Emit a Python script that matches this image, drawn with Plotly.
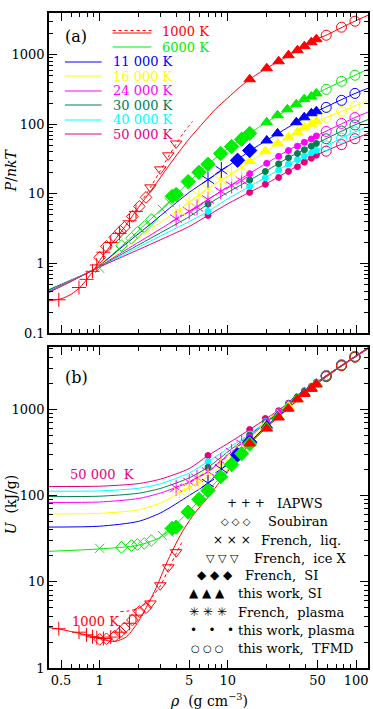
import plotly.graph_objects as go

# ---------------- colours / labels ----------------
T_LABELS = ["1000 K", "6000 K", "11 000 K", "16 000 K", "24 000 K", "30 000 K", "40 000 K", "50 000 K"]
T_COLORS = ["#ff0000", "#00ee00", "#0000ff", "#ffff00", "#ff00ff", "#008050", "#00ffff", "#e6007e"]

# ---------------- model curves, panel (a) P/nkT ----------------
RHO_LINE_A_1000 = [0.40, 0.5, 0.6, 0.7, 0.8, 0.9, 1.0, 1.2, 1.5, 2.0, 2.5, 3.0, 3.5, 4.2, 5.0, 6.5, 8.0, 10, 12,
                   14.8, 20, 25, 30, 40, 49, 60, 78, 98, 124]
P_LINE_1000 = [0.29, 0.31, 0.36, 0.45, 0.6, 0.8, 1.1, 1.75, 3.0, 6.3, 11, 17.5, 26, 41, 62, 108, 165, 240, 325,
               444, 639, 806, 984, 1326, 1671, 1950, 2488, 3034, 3700]
RHO_DOT_A_1000 = [2.2, 2.49, 2.97, 3.43, 3.95, 4.5, 5.3]
P_DOT_1000 = [8.6, 12.4, 21.5, 34, 52, 75, 110]

RHO_GRID_A = [0.40, 0.6, 0.91, 1.5, 2.5, 3.5, 5, 7, 10, 15, 20, 30, 49, 98, 124]
P_LINE_6000 = [0.42, 0.58, 0.82, 1.8, 4.3, 7.8, 15, 26.6, 45, 75, 107, 166, 278, 507, 620]
P_LINE_11000 = [0.41, 0.575, 0.82, 1.73, 3.7, 6.2, 10.5, 16, 25, 42, 58.6, 92, 152, 277, 330]
P_LINE_16000 = [0.40, 0.57, 0.82, 1.58, 3.08, 4.78, 7.6, 12, 18, 29.5, 41, 66, 109, 183, 220]
P_LINE_24000 = [0.395, 0.565, 0.82, 1.45, 2.57, 3.76, 5.6, 8.3, 12.5, 20, 27.5, 43, 68, 125, 150]
P_LINE_30000 = [0.39, 0.56, 0.82, 1.37, 2.3, 3.24, 4.7, 7.1, 10.5, 16, 21.5, 33.5, 53, 98, 117]
P_LINE_40000 = [0.385, 0.555, 0.82, 1.3, 2.1, 2.87, 4.0, 5.6, 8.5, 13, 17.5, 27, 42, 78, 93]
P_LINE_50000 = [0.38, 0.55, 0.82, 1.24, 1.89, 2.5, 3.4, 4.9, 7.2, 10.7, 14, 21.5, 36, 62, 74]

# ---------------- model curves, panel (b) U ----------------
RHO_LINE_B_1000 = [0.4, 0.48, 0.68, 0.87, 1.0, 1.15, 1.26, 1.4, 1.62, 1.8, 2.04, 2.4, 2.77, 3.3, 3.95, 4.6, 5.5,
                   7, 10, 14.8, 19.6, 24.4, 29.2, 35, 40, 45, 49, 58.5, 78, 98, 124]
U_LINE_1000 = [2.95, 2.83, 2.54, 2.34, 2.22, 2.08, 2.03, 2.08, 2.3, 2.75, 3.6, 5.6, 8.6, 16, 28, 42, 62,
               95, 190, 395, 595, 795, 1000, 1280, 1510, 1720, 1930, 2380, 3200, 4000, 5000]
RHO_DOT_B_1000 = [1.45, 1.7, 2.0, 2.3, 2.6, 3.0, 3.5, 4.0, 4.5]
U_DOT_1000 = [4.5, 4.6, 4.9, 5.6, 6.8, 9.2, 14.7, 22, 31]

RHO_GRID_B = [0.4, 1.0, 2.0, 3.0, 5.0, 7.0, 10, 14.8, 20, 30, 49, 98, 124]
U_LINE_6000 = [22.5, 24, 26.5, 33, 66, 114, 200, 400, 620, 1040, 1960, 4030, 5100]
U_LINE_11000 = [43, 44, 50, 63, 100, 139, 240, 415, 640, 1060, 1970, 4040, 5110]
U_LINE_16000 = [61, 62, 68, 82, 124, 166, 255, 430, 660, 1080, 1990, 4050, 5120]
U_LINE_24000 = [83, 84, 92, 107, 143, 189, 295, 475, 700, 1120, 2010, 4060, 5130]
U_LINE_30000 = [97, 98, 106, 121, 160, 212, 320, 500, 720, 1150, 2030, 4070, 5140]
U_LINE_40000 = [112, 113, 121, 137, 182, 247, 350, 515, 735, 1165, 2040, 4080, 5150]
U_LINE_50000 = [127, 128, 137, 155, 205, 290, 400, 580, 780, 1190, 2042, 4090, 5160]

# ---------------- simulation / reference points ----------------
TFMD_RHO = [58.5, 77, 98]

# 1000 K
IAPWS_RHO_1000 = [0.48, 0.69, 0.79, 0.88, 0.95, 1.07, 1.22, 1.43, 1.71, 1.92]
IAPWS_P_1000 = [0.30, 0.45, 0.59, 0.77, 0.95, 1.45, 2.0, 2.7, 4.1, 5.6]
IAPWS_U_1000 = [2.85, 2.6, 2.42, 2.3, 2.25, 2.2, 2.28, 2.6, 3.3, 4.1]
SOUB_RHO_1000 = [1.0, 1.13, 1.31, 1.45, 1.56, 1.8, 2.04, 2.3]
SOUB_P_1000 = [1.22, 1.76, 2.37, 2.9, 3.3, 4.74, 6.6, 8.9]
SOUB_U_1000 = [2.15, 2.18, 2.34, 2.6, 2.9, 3.6, 4.5, 5.0]
ICEX_RHO_1000 = [2.49, 2.97, 3.43, 3.95]
ICEX_P_1000 = [12.4, 22.5, 35.8, 53]
ICEX_U_1000 = [5.6, 9.1, 14.7, 22]
SI_RHO_1000 = [14.8, 20.1, 24.9, 29.7, 34.9, 39.5, 44.8, 49]
SI_P_1000 = [444, 639, 806, 984, 1160, 1326, 1513, 1671]
SI_U_1000 = [400, 595, 800, 1014, 1300, 1500, 1720, 1930]
TFMD_P_1000 = [1906, 2488, 3034]
TFMD_U_1000 = [2380, 3200, 4000]

# 6000 K
LIQ_RHO_6000 = [1.0, 3.08, 3.49]
LIQ_P_6000 = [0.85, 6.0, 7.5]
LIQ_U_6000 = [24.4, 34.5, 37.5]
SOUB_RHO_6000 = [1.48, 1.77, 1.97, 2.23, 2.53]
SOUB_P_6000 = [1.8, 2.3, 2.8, 3.4, 4.3]
SOUB_U_6000 = [25, 26.3, 27, 27.8, 30]
FSI_RHO_6000 = [3.68, 3.95, 4.9, 5.95, 7.0, 8.8, 10.7, 12.8, 14.8]
FSI_P_6000 = [9.2, 9.8, 15, 20.4, 26.6, 38, 48, 61, 74]
FSI_U_6000 = [41.5, 43, 64, 90, 114, 165, 228, 305, 395]
SI_RHO_6000 = [20.1, 24.4, 29.1, 34.2, 39.4, 44.8, 49]
SI_P_6000 = [107, 135, 164, 194, 230, 250, 278]
SI_U_6000 = [620, 810, 1020, 1300, 1510, 1730, 1950]
TFMD_P_6000 = [318, 415, 507]
TFMD_U_6000 = [2400, 3180, 4030]

# 11 000 K
PLA_RHO_11000 = [7.0, 8.9]
PLA_P_11000 = [16, 22]
PLA_U_11000 = [139, 203]
FSI_RHO_11000 = [11.9, 14.8]
FSI_P_11000 = [30.4, 42]
FSI_U_11000 = [295, 415]
SI_RHO_11000 = [20.1, 24.4, 34.2, 39.4, 44.8, 49]
SI_P_11000 = [58.6, 74, 107, 126, 144, 154]
SI_U_11000 = [645, 830, 1320, 1540, 1760, 1970]
TFMD_P_11000 = [175, 221, 278]
TFMD_U_11000 = [2420, 3200, 4040]

# 16 000 K
PLA_RHO_16000 = [4.2, 5.0, 5.95, 7.0, 8.8, 10.7, 12.8]
PLA_P_16000 = [5.6, 7.6, 9.6, 12, 15.8, 19.5, 24]
PLA_U_16000 = [110, 124, 143, 166, 218, 280, 350]
SI_RHO_16000 = [14.8, 19.6, 24.4, 29.7, 34.9, 39.5, 44.8, 49]
SI_P_16000 = [29.7, 41, 53, 65, 76.6, 90, 100, 110]
SI_U_16000 = [430, 650, 850, 1070, 1330, 1540, 1770, 1990]
TFMD_P_16000 = [126, 154, 181]
TFMD_U_16000 = [2430, 3220, 4050]

# 24 000 K
PLA_RHO_24000 = [3.95, 5.0, 5.75, 7.0, 8.8, 10.7, 12.8]
PLA_P_24000 = [4.4, 5.6, 6.4, 8.3, 10.9, 13.2, 15.5]
PLA_U_24000 = [123, 143, 160, 189, 250, 320, 400]
PLM_RHO_24000 = [14.8, 20.1, 24.9, 29.7, 34.9, 39.5, 44.8, 49]
PLM_P_24000 = [19.5, 27.5, 34.6, 42, 48.5, 55, 61.5, 68]
PLM_U_24000 = [475, 705, 900, 1100, 1340, 1560, 1790, 2010]
TFMD_P_24000 = [79, 103, 125]
TFMD_U_24000 = [2440, 3230, 4060]

# 30 000 / 40 000 / 50 000 K ("this work, plasma")
PLM_RHO_HIGH = [7.0, 14.8, 19.6, 24.9, 29.7, 34.9, 39.5, 44.8, 49]
PLM_P_30000 = [7.1, 15.8, 21, 27, 33, 38, 43, 48.5, 53]
PLM_U_30000 = [212, 500, 705, 910, 1130, 1360, 1580, 1810, 2030]
PLM_P_40000 = [5.6, 12.8, 17, 22, 26.8, 31, 35, 39, 42]
PLM_U_40000 = [247, 515, 720, 925, 1145, 1375, 1600, 1820, 2040]
PLM_P_50000 = [4.9, 10.5, 13.7, 17.2, 21, 24.5, 28.5, 32.5, 36]
PLM_U_50000 = [290, 580, 780, 960, 1175, 1395, 1636, 1835, 2042]
TFMD_P_30000 = [62, 80, 98]
TFMD_U_30000 = [2445, 3240, 4070]
TFMD_P_40000 = [49, 63, 78]
TFMD_U_40000 = [2450, 3250, 4080]
TFMD_P_50000 = [41, 51, 62]
TFMD_U_50000 = [2460, 3270, 4090]

# marker legend of panel (b)
MARKER_GLYPHS = ["+ + +", "◇ ◇ ◇", "× × ×", "▽ ▽ ▽", "◆ ◆ ◆", "▲ ▲ ▲", "✳ ✳ ✳", "•   •   •", "○ ○ ○"]
GLYPH_SIZES = [12, 10, 12, 11, 12, 12, 12, 12, 10]
MARKER_NAMES = ["IAPWS", "Soubiran", "French,  liq.", "French,  ice X", "French,  SI", "this work, SI",
                "French,  plasma", "this work, plasma", "this work,  TFMD"]

SERIF = "DejaVu Serif"

fig = go.Figure()

# axes ids: panel (a) -> x2/y2 ; panel (b) -> x/y
AX = {"a": ("x2", "y2"), "b": ("x", "y")}


def line(panel, xs, ys, color, dash="solid", width=1.0):
    xa, ya = AX[panel]
    fig.add_trace(go.Scatter(x=xs, y=ys, mode="lines", xaxis=xa, yaxis=ya, hoverinfo="skip",
                             line=dict(color=color, width=width, dash=dash, shape="spline", smoothing=0.7)))


def pts(panel, xs, ys, color, symbol, size, lw=1.0):
    xa, ya = AX[panel]
    fig.add_trace(go.Scatter(x=xs, y=ys, mode="markers", xaxis=xa, yaxis=ya, hoverinfo="skip",
                             marker=dict(symbol=symbol, size=size, color=color,
                                         line=dict(color=color, width=lw))))


def star(panel, xs, ys, color, size=10):
    pts(panel, xs, ys, color, "y-up-open", size)
    pts(panel, xs, ys, color, "y-down-open", size)


C = dict(zip(["1000", "6000", "11000", "16000", "24000", "30000", "40000", "50000"], T_COLORS))

# ---------------- curves ----------------
line_a = [P_LINE_6000, P_LINE_11000, P_LINE_16000, P_LINE_24000, P_LINE_30000, P_LINE_40000, P_LINE_50000]
line_b = [U_LINE_6000, U_LINE_11000, U_LINE_16000, U_LINE_24000, U_LINE_30000, U_LINE_40000, U_LINE_50000]
for col, ya_, yb_ in zip(T_COLORS[1:], line_a, line_b):
    line("a", RHO_GRID_A, ya_, col)
    line("b", RHO_GRID_B, yb_, col)
line("a", RHO_LINE_A_1000, P_LINE_1000, C["1000"])
line("a", RHO_DOT_A_1000, P_DOT_1000, C["1000"], dash="dot")
line("b", RHO_LINE_B_1000, U_LINE_1000, C["1000"])
line("b", RHO_DOT_B_1000, U_DOT_1000, C["1000"], dash="dot")

# ---------------- points ----------------
for panel, idx in (("a", 0), ("b", 1)):
    sel = lambda p, u: p if idx == 0 else u
    for key, pp, uu, tp, tu in (("50000", PLM_P_50000, PLM_U_50000, TFMD_P_50000, TFMD_U_50000),
                                ("40000", PLM_P_40000, PLM_U_40000, TFMD_P_40000, TFMD_U_40000),
                                ("30000", PLM_P_30000, PLM_U_30000, TFMD_P_30000, TFMD_U_30000)):
        pts(panel, PLM_RHO_HIGH, sel(pp, uu), C[key], "circle", 6)
        pts(panel, TFMD_RHO, sel(tp, tu), C[key], "circle-open", 10)
    star(panel, PLA_RHO_24000, sel(PLA_P_24000, PLA_U_24000), C["24000"])
    pts(panel, PLM_RHO_24000, sel(PLM_P_24000, PLM_U_24000), C["24000"], "circle", 6)
    pts(panel, TFMD_RHO, sel(TFMD_P_24000, TFMD_U_24000), C["24000"], "circle-open", 10)
    star(panel, PLA_RHO_16000, sel(PLA_P_16000, PLA_U_16000), C["16000"])
    pts(panel, SI_RHO_16000, sel(SI_P_16000, SI_U_16000), C["16000"], "triangle-up", 10)
    pts(panel, TFMD_RHO, sel(TFMD_P_16000, TFMD_U_16000), C["16000"], "circle-open", 10)
    star(panel, PLA_RHO_11000, sel(PLA_P_11000, PLA_U_11000), C["11000"])
    pts(panel, FSI_RHO_11000, sel(FSI_P_11000, FSI_U_11000), C["11000"], "diamond", 11)
    pts(panel, SI_RHO_11000, sel(SI_P_11000, SI_U_11000), C["11000"], "triangle-up", 10)
    pts(panel, TFMD_RHO, sel(TFMD_P_11000, TFMD_U_11000), C["11000"], "circle-open", 10)
    pts(panel, LIQ_RHO_6000, sel(LIQ_P_6000, LIQ_U_6000), C["6000"], "x-thin-open", 9)
    pts(panel, SOUB_RHO_6000, sel(SOUB_P_6000, SOUB_U_6000), C["6000"], "diamond-open", 9)
    pts(panel, FSI_RHO_6000, sel(FSI_P_6000, FSI_U_6000), C["6000"], "diamond", 11)
    pts(panel, SI_RHO_6000, sel(SI_P_6000, SI_U_6000), C["6000"], "triangle-up", 10)
    pts(panel, TFMD_RHO, sel(TFMD_P_6000, TFMD_U_6000), C["6000"], "circle-open", 10)
    pts(panel, IAPWS_RHO_1000, sel(IAPWS_P_1000, IAPWS_U_1000), C["1000"], "cross-thin-open", 10)
    pts(panel, SOUB_RHO_1000, sel(SOUB_P_1000, SOUB_U_1000), C["1000"], "diamond-open", 9)
    pts(panel, ICEX_RHO_1000, sel(ICEX_P_1000, ICEX_U_1000), C["1000"], "triangle-down-open", 10)
    pts(panel, SI_RHO_1000, sel(SI_P_1000, SI_U_1000), C["1000"], "triangle-up", 10)
    pts(panel, TFMD_RHO, sel(TFMD_P_1000, TFMD_U_1000), C["1000"], "circle-open", 10)

# ---------------- axes ----------------
X_MAJOR = [0.5, 1, 5, 10, 50, 100]
X_MINOR = [0.4, 0.6, 0.7, 0.8, 0.9, 2, 3, 4, 6, 7, 8, 9, 20, 30, 40, 60, 70, 80, 90]
YA_MAJOR = [0.1, 1, 10, 100, 1000]
YB_MAJOR = [1, 10, 100, 1000]
Y_MINOR = [m * 10 ** e for e in range(-1, 4) for m in range(2, 10) if m * 10 ** e <= 5000]

tickfont = dict(family=SERIF, size=13, color="black")
common = dict(type="log", showline=True, linecolor="black", linewidth=1.6, mirror="ticks",
              ticks="inside", ticklen=8, tickwidth=1, tickcolor="black", showgrid=False, zeroline=False,
              tickfont=tickfont,
              minor=dict(ticks="inside", ticklen=4, tickwidth=1, tickcolor="black", showgrid=False))

XRANGE = [-0.395, 2.093]
fig.update_layout(
    xaxis=dict(common, range=XRANGE, anchor="y", tickvals=X_MAJOR, ticktext=["0.5", "1", "5", "10", "50", "100"],
               minor=dict(common["minor"], tickvals=X_MINOR)),
    xaxis2=dict(common, range=XRANGE, anchor="y2", matches="x", tickvals=X_MAJOR, showticklabels=False,
                minor=dict(common["minor"], tickvals=X_MINOR)),
    yaxis=dict(common, range=[0, 3.72], domain=[0, 0.490], anchor="x", tickvals=YB_MAJOR,
               ticktext=["1", "10", "100", "1000"], minor=dict(common["minor"], tickvals=Y_MINOR)),
    yaxis2=dict(common, range=[-1, 3.6], domain=[0.5115, 1], anchor="x2", tickvals=YA_MAJOR,
                ticktext=["0.1", "1", "10", "100", "1000"], minor=dict(common["minor"], tickvals=Y_MINOR)),
    width=373, height=709, margin=dict(l=49, r=3, t=13, b=41),
    paper_bgcolor="white", plot_bgcolor="white", showlegend=False, hovermode=False,
)


# pixel -> paper helpers for decorations
def px(xp):
    return (xp - 49) / 321.0


def py(yp):
    return (668 - yp) / 655.0


ann = []
shapes = []


def text(xp, yp, s, size=13, color="black", family=SERIF, xanchor="left", angle=0):
    ann.append(dict(xref="paper", yref="paper", x=px(xp), y=py(yp), text=s, showarrow=False,
                    xanchor=xanchor, yanchor="middle", textangle=angle,
                    font=dict(family=family, size=size, color=color)))


text(63, 36, "(a)", size=16)
text(63, 377, "(b)", size=16)

# temperature legend in panel (a)
ROW_Y = [32, 47, 62, 76, 91, 105, 120, 134]
for i, (lab, col) in enumerate(zip(T_LABELS, T_COLORS)):
    if i < 2:
        x0, x1, xt = 113, 152, 161
    else:
        x0, x1, xt = 65, 102, 111
    yy = ROW_Y[i]
    if i == 0:
        shapes.append(dict(type="line", xref="paper", yref="paper", x0=px(x0), x1=px(x1), y0=py(yy - 1.5),
                           y1=py(yy - 1.5), line=dict(color=col, width=1.2, dash="dot")))
        shapes.append(dict(type="line", xref="paper", yref="paper", x0=px(x0), x1=px(x1), y0=py(yy + 1),
                           y1=py(yy + 1), line=dict(color=col, width=1)))
    else:
        shapes.append(dict(type="line", xref="paper", yref="paper", x0=px(x0), x1=px(x1), y0=py(yy),
                           y1=py(yy), line=dict(color=col, width=1)))
    text(xt, yy, lab, color=col)

# curve labels in panel (b)
text(68, 474, "50 000  K", color=C["50000"])
text(70, 621, "1000 K", color=C["1000"])

# marker legend in panel (b)
LEG_Y = [503, 521, 540, 558, 575, 593, 612, 630, 648]
LEG_XG = [226, 220, 212, 205, 196, 188, 188, 189, 190]
LEG_XT = [276, 267, 260, 253, 244, 237, 237, 237, 237]
for g, gs, n, yy, xg, xt in zip(MARKER_GLYPHS, GLYPH_SIZES, MARKER_NAMES, LEG_Y, LEG_XG, LEG_XT):
    text(xg, yy, g, size=gs, family="DejaVu Sans")
    text(xt, yy, n)

# axis titles
text(11, 170, "<i>P</i>/<i>nkT</i>", size=14, xanchor="center", angle=-90)
text(11, 505, "<i>U</i>  (kJ/g)", size=14, xanchor="center", angle=-90)
text(210, 700, "<i>ρ</i>  (g cm<sup>−3</sup>)", size=14, xanchor="center")

fig.update_layout(annotations=ann, shapes=shapes)
fig.write_html("out.html")
